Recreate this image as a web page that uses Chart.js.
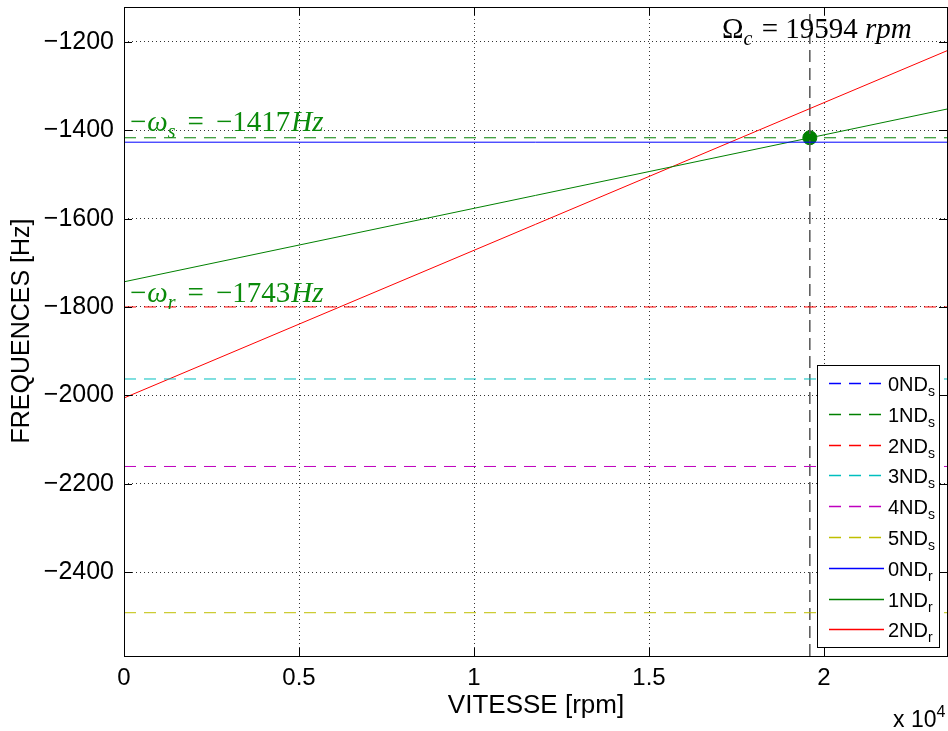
<!DOCTYPE html>
<html>
<head>
<meta charset="utf-8">
<script src="https://cdn.jsdelivr.net/npm/chart.js@4.4.0/dist/chart.umd.min.js"></script>
<style>
  html, body { margin: 0; padding: 0; background: #fff; }
  #wrap { width: 948px; height: 731px; }
</style>
</head>
<body>
<div id="wrap"><canvas id="chart" width="948" height="731"></canvas></div>
<script>
"use strict";

// speed axis [rpm]
const omegaC = 19594;
const speedRange = [0, 23513];
const xTicks = [0, 5000, 10000, 15000, 20000];

// frequency axis [Hz]
const yRange = [-2590, -1121];
const yTicks = [-2400, -2200, -2000, -1800, -1600, -1400, -1200];

// stator modes, flat with speed (0ND is off the plotted range)
const statorNames = ['0ND', '1ND', '2ND', '3ND', '4ND', '5ND'];
const statorFreqs = [null, -1417, -1800, -1963, -2161, -2492];

// rotor modes: value at 0 rpm and at the end of the speed range
const rotorNames = ['0ND', '1ND', '2ND'];
const rotorStart = [-1427, -1743, -2006];
const rotorEnd = [-1427, -1352, -1220];

// coincidence point
const critPoint = { x: 19594, y: -1417 };

const colors = ['#0000ff', '#008000', '#ff0000', '#00bfbf', '#bf00bf', '#bfbf00'];
const MINUS = '\u2212';
const SANS = '"Liberation Sans", Arial, sans-serif';
const SERIF = '"Liberation Serif", "Times New Roman", serif';

const datasets = [];
statorNames.forEach((name, i) => {
  const v = statorFreqs[i];
  datasets.push({
    label: name, sub: 's',
    data: v === null ? [] : [{ x: speedRange[0], y: v }, { x: speedRange[1], y: v }],
    borderColor: colors[i], borderWidth: 1, borderDash: [12, 8],
    pointRadius: 0
  });
});
rotorNames.forEach((name, i) => {
  datasets.push({
    label: name, sub: 'r',
    data: [{ x: speedRange[0], y: rotorStart[i] }, { x: speedRange[1], y: rotorEnd[i] }],
    borderColor: colors[i], borderWidth: 1,
    pointRadius: 0
  });
});
// critical speed marker line
datasets.push({
  label: '', data: [{ x: omegaC, y: yRange[0] }, { x: omegaC, y: yRange[1] }],
  borderColor: '#555555', borderWidth: 1.5, borderDash: [12, 6], pointRadius: 0
});
datasets.push({
  label: '', data: [critPoint], showLine: false,
  pointRadius: 7, pointBackgroundColor: '#008000', pointBorderColor: '#008000'
});

function fmtNum(v) {
  return String(v).replace('-', MINUS);
}

// write a piece of math-like text made of parts (italic / subscript / superscript)
function drawRich(ctx, x, y, parts, size, color, family) {
  ctx.save();
  ctx.fillStyle = color;
  ctx.textAlign = 'left';
  ctx.textBaseline = 'alphabetic';
  let cx = x;
  parts.forEach(p => {
    const fs = (p.sub || p.sup) ? Math.round(size * 0.7) : size;
    ctx.font = (p.it ? 'italic ' : '') + fs + 'px ' + family;
    const dy = p.sub ? size * 0.25 : (p.sup ? -size * 0.45 : 0);
    ctx.fillText(p.t, cx, y + dy);
    cx += ctx.measureText(p.t).width + (p.gap || 0);
  });
  ctx.restore();
}

// box with inward tick marks, like the original plot
const frameBox = {
  id: 'frameBox',
  afterDatasetsDraw(chart) {
    const { ctx, chartArea: a, scales } = chart;
    ctx.save();
    ctx.strokeStyle = '#000';
    ctx.lineWidth = 1;
    ctx.beginPath();
    xTicks.forEach(v => {
      const px = Math.round(scales.x.getPixelForValue(v)) + 0.5;
      ctx.moveTo(px, a.bottom); ctx.lineTo(px, a.bottom - 8);
      ctx.moveTo(px, a.top); ctx.lineTo(px, a.top + 8);
    });
    yTicks.forEach(v => {
      const py = Math.round(scales.y.getPixelForValue(v)) + 0.5;
      ctx.moveTo(a.left, py); ctx.lineTo(a.left + 8, py);
      ctx.moveTo(a.right, py); ctx.lineTo(a.right - 8, py);
    });
    ctx.stroke();
    ctx.strokeRect(Math.round(a.left) + 0.5, Math.round(a.top) + 0.5,
      Math.round(a.right - a.left), Math.round(a.bottom - a.top));
    ctx.restore();
  }
};

// inset legend in the lower right corner
const insetLegend = {
  id: 'insetLegend',
  afterDraw(chart) {
    const ctx = chart.ctx;
    const bx = 817, by = 365, bw = 122, bh = 282;
    ctx.save();
    ctx.fillStyle = '#fff';
    ctx.fillRect(bx, by, bw, bh);
    ctx.strokeStyle = '#000';
    ctx.lineWidth = 1;
    ctx.strokeRect(bx + 0.5, by + 0.5, bw, bh);
    const items = chart.data.datasets.filter(d => d.sub);
    items.forEach((d, i) => {
      const ry = Math.round(by + 18 + i * 30.8) + 0.5;
      ctx.strokeStyle = d.borderColor;
      ctx.lineWidth = 1.5;
      ctx.setLineDash(d.borderDash ? [12, 8] : []);
      ctx.beginPath();
      ctx.moveTo(829, ry); ctx.lineTo(884, ry);
      ctx.stroke();
      ctx.setLineDash([]);
      drawRich(ctx, 888, ry + 7, [{ t: d.label }, { t: d.sub, sub: true }], 20, '#000', SANS);
    });
    ctx.restore();
  }
};

// axis titles and annotations
const labels = {
  id: 'labels',
  afterDraw(chart) {
    const ctx = chart.ctx;
    ctx.save();
    ctx.fillStyle = '#000';
    ctx.font = '26px ' + SANS;
    ctx.textAlign = 'center';
    ctx.textBaseline = 'middle';
    ctx.fillText('VITESSE [rpm]', 536, 706);
    ctx.font = '25px ' + SANS;
    ctx.translate(22, 331);
    ctx.rotate(-Math.PI / 2);
    ctx.fillText('FREQUENCES [Hz]', 0, 0);
    ctx.restore();

    drawRich(ctx, 893, 727, [{ t: 'x 10' }, { t: '4', sup: true }], 23, '#000', SANS);

    const green = '#0a8a0a';
    drawRich(ctx, 130, 131, [
      { t: MINUS, gap: 1 }, { t: '\u03c9', it: true }, { t: 's', it: true, sub: true, gap: 12 },
      { t: '=', gap: 12 }, { t: MINUS + '1417', gap: 1 }, { t: 'Hz', it: true }
    ], 29, green, SERIF);
    drawRich(ctx, 130, 302, [
      { t: MINUS, gap: 1 }, { t: '\u03c9', it: true }, { t: 'r', it: true, sub: true, gap: 12 },
      { t: '=', gap: 12 }, { t: MINUS + '1743', gap: 1 }, { t: 'Hz', it: true }
    ], 29, green, SERIF);
    drawRich(ctx, 722, 38, [
      { t: '\u03a9' }, { t: 'c', it: true, sub: true, gap: 2 },
      { t: ' = 19594 ' }, { t: 'rpm', it: true }
    ], 29, '#000', SERIF);
  }
};

const ctx = document.getElementById('chart').getContext('2d');
new Chart(ctx, {
  type: 'line',
  data: { datasets: datasets },
  options: {
    responsive: false,
    animation: false,
    events: [],
    layout: { autoPadding: false, padding: { top: 7, right: 1, left: 0, bottom: 0 } },
    plugins: {
      legend: { display: false },
      tooltip: { enabled: false }
    },
    scales: {
      x: {
        type: 'linear',
        min: speedRange[0],
        max: speedRange[1],
        afterFit(scale) {
          scale.height = 75;
          scale.paddingLeft = 0;
          scale.paddingRight = 0;
        },
        afterBuildTicks(scale) { scale.ticks = xTicks.map(v => ({ value: v })); },
        ticks: {
          padding: 8,
          color: '#000',
          font: { family: SANS, size: 24 },
          maxRotation: 0,
          callback: v => String(v / 10000)
        },
        grid: { color: 'rgba(0,0,0,0.8)', lineWidth: 1, drawTicks: false },
        border: { display: false, dash: [1, 3] }
      },
      y: {
        type: 'linear',
        min: yRange[0],
        max: yRange[1],
        afterFit(scale) {
          scale.width = 124;
          scale.paddingTop = 0;
          scale.paddingBottom = 0;
        },
        afterBuildTicks(scale) { scale.ticks = yTicks.map(v => ({ value: v })); },
        ticks: {
          padding: 10,
          color: '#000',
          font: { family: SANS, size: 25 },
          callback: v => fmtNum(v)
        },
        grid: { color: 'rgba(0,0,0,0.8)', lineWidth: 1, drawTicks: false },
        border: { display: false, dash: [1, 3] }
      }
    }
  },
  plugins: [frameBox, insetLegend, labels]
});
</script>
</body>
</html>
